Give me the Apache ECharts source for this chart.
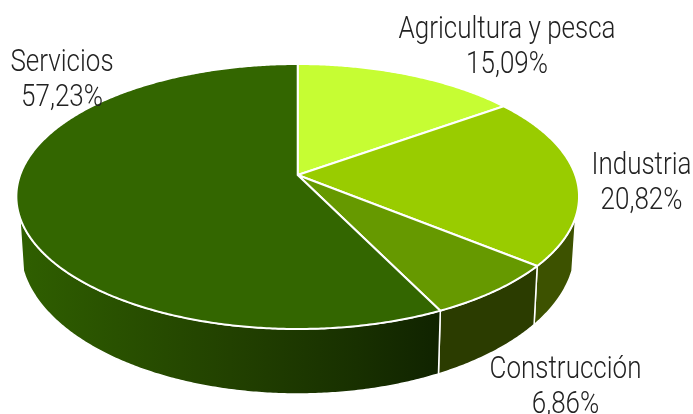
<!DOCTYPE html>
<html><head><meta charset="utf-8">
<style>html,body{margin:0;padding:0;background:#fff}#c{width:693px;height:414px}</style>
<script src="https://cdn.jsdelivr.net/npm/echarts@6/dist/echarts.min.js"></script>
</head><body><div id="c"></div>
<script>
const categories = ['Agricultura y pesca', 'Industria', 'Construcción', 'Servicios'];
const values = [15.09, 20.82, 6.86, 57.23];

const topColors = ['#c6fd33', '#99cc00', '#669900', '#336600'];
const sideColors = [
  '#546f16', '#3d5200', '#2b3c00',
  new echarts.graphic.LinearGradient(0, 0, 1, 0, [
    {offset: 0, color: '#2f5f00'},
    {offset: 0.5, color: '#224100'},
    {offset: 0.8, color: '#183000'},
    {offset: 1, color: '#102300'}
  ])
];
const labelAnchors = [[507, 48], [641.5, 183.5], [565.5, 388], [62, 80.5]];

// perspective ellipse of the top face and of the bottom rim
const CX = 297.7, CY = 175, A = 277.6, B = 129, E = 0.1623;
const BOT_Y = 224.5, BOT_A = 274, BOT_B = 142;
const SIDE_FROM = 108, SIDE_TO = 252;
const total = values.reduce((a, b) => a + b, 0);
const ang = v => v / total * 360;
function startDeg(i) { let s = 0; for (let k = 0; k < i; k++) s += values[k]; return ang(s); }
function topPt(d) {
  const t = d * Math.PI / 180, w = 1 + E * Math.cos(t);
  return [CX + A * Math.sin(t) / w, CY - B * Math.cos(t) / w];
}
function botPt(d) {
  const t = d * Math.PI / 180, w = 1 + E * Math.cos(t);
  return [CX + BOT_A * Math.sin(t) / w, BOT_Y - BOT_B * Math.cos(t) / w];
}
function arc(fn, a, b) {
  const n = Math.max(2, Math.ceil(Math.abs(b - a) * 2)), out = [];
  for (let i = 0; i <= n; i++) out.push(fn(a + (b - a) * i / n));
  return out;
}
function renderSide(params, api) {
  const i = params.dataIndex, s = startDeg(i), e = s + ang(api.value(0));
  const a = Math.max(s, SIDE_FROM), b = Math.min(e, SIDE_TO);
  if (b <= a) return {type: 'group', children: []};
  const pts = arc(topPt, a, b).concat(arc(botPt, b, a));
  return {type: 'polygon', shape: {points: pts},
    style: {fill: sideColors[i], stroke: '#fff', lineWidth: 1.5, lineJoin: 'round'}};
}
function renderTop(params, api) {
  const i = params.dataIndex, v = api.value(0), s = startDeg(i), e = s + ang(v);
  const pts = [[CX, CY]].concat(arc(topPt, s, e));
  return {type: 'group', children: [
    {type: 'polygon', shape: {points: pts},
      style: {fill: topColors[i], stroke: '#fff', lineWidth: 2, lineJoin: 'round'}},
    {type: 'text', x: labelAnchors[i][0], y: labelAnchors[i][1], scaleY: 1.2, z2: 10,
      style: {text: categories[i] + '\n' + v.toFixed(2).replace('.', ',') + '%',
        font: '300 26px Roboto', fill: '#222', align: 'center', verticalAlign: 'middle', lineHeight: 29}}
  ]};
}
const rows = values.map(v => [v]);
const chart = echarts.init(document.getElementById('c'), null, {renderer: 'canvas'});
chart.setOption({
  animation: false,
  backgroundColor: '#fff',
  series: [
    {type: 'custom', coordinateSystem: 'none', data: rows, renderItem: renderSide, z: 1, silent: true},
    {type: 'custom', coordinateSystem: 'none', data: rows, renderItem: renderTop, z: 2, silent: true}
  ]
});
</script></body></html>
